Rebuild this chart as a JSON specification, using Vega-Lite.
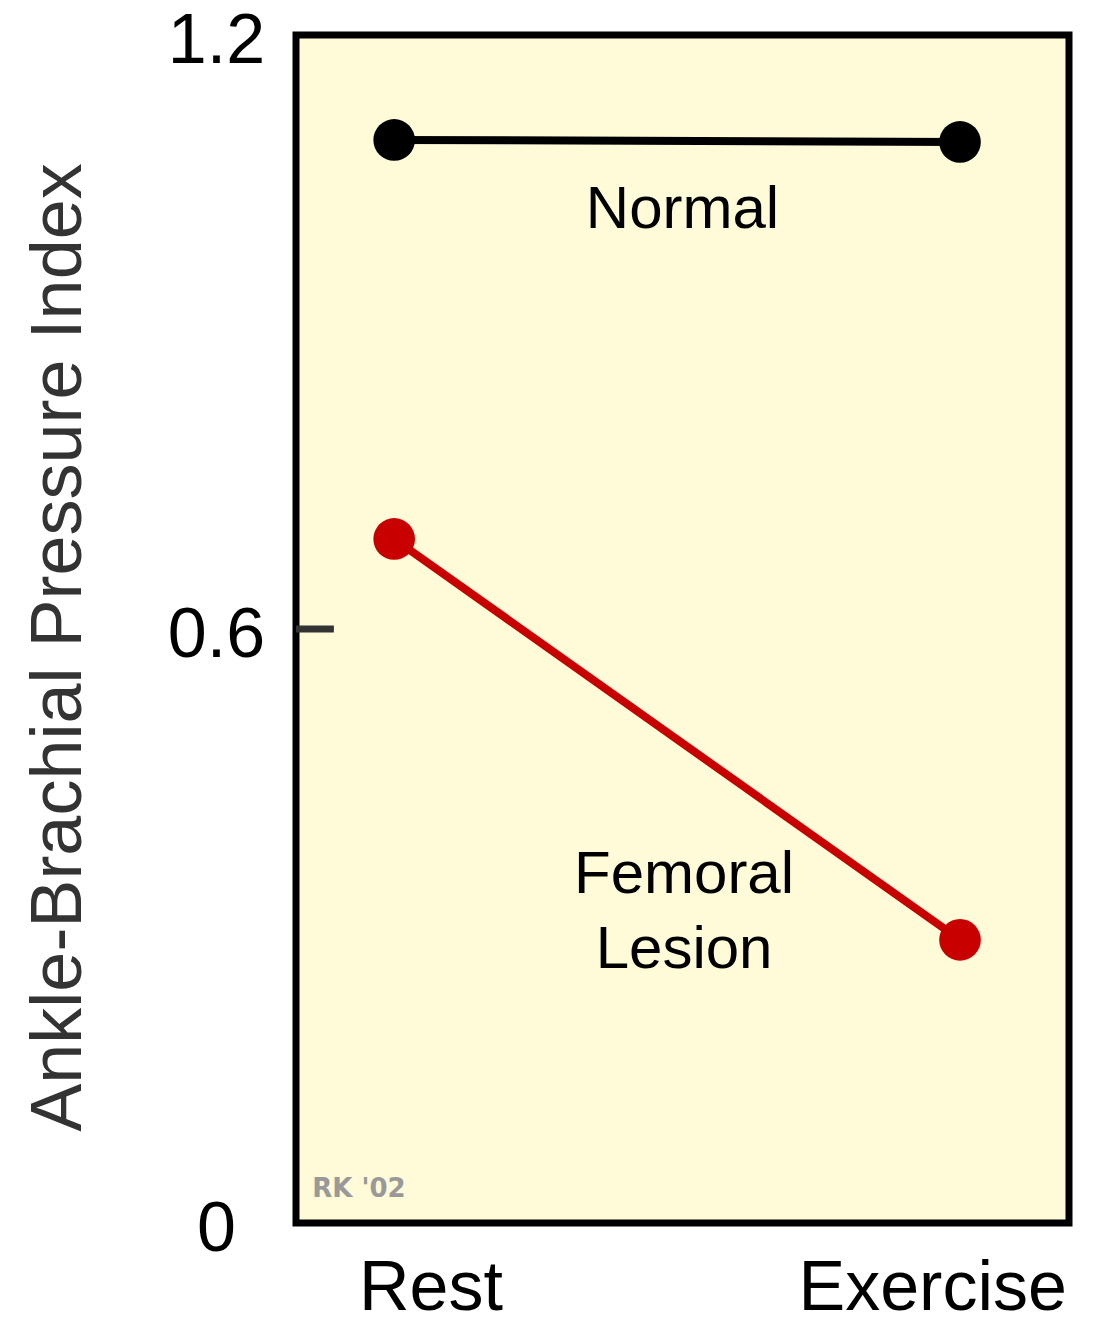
{
  "$schema": "https://vega.github.io/schema/vega-lite/v6.json",
  "autosize": {"type": "none"},
  "padding": {"left": 296, "top": 35, "right": 30, "bottom": 115},
  "width": 773,
  "height": 1188,
  "background": "white",
  "config": {
    "view": {"fill": "#fffad7", "stroke": "black", "strokeWidth": 7},
    "font": "Liberation Sans"
  },
  "datasets": {
    "series": [
      {"series": "Normal", "condition": "Rest", "pos": 0.127, "abpi": 1.094},
      {"series": "Normal", "condition": "Exercise", "pos": 0.859, "abpi": 1.092},
      {"series": "Femoral Lesion", "condition": "Rest", "pos": 0.127, "abpi": 0.691},
      {"series": "Femoral Lesion", "condition": "Exercise", "pos": 0.859, "abpi": 0.286}
    ],
    "labels": [
      {"text": "Normal", "pos": 0.5, "abpi": 1.005},
      {"text": "Femoral", "pos": 0.502, "abpi": 0.333},
      {"text": "Lesion", "pos": 0.502, "abpi": 0.258}
    ],
    "tick": [{"pos": 0, "pos2": 0.049, "abpi": 0.6}],
    "credit": [{"text": "RK '02", "pos": 0.021, "abpi": 0.026}]
  },
  "layer": [
    {
      "data": {"name": "tick"},
      "mark": {"type": "rule", "color": "#333333", "strokeWidth": 7},
      "encoding": {
        "x": {"field": "pos", "type": "quantitative"},
        "x2": {"field": "pos2"},
        "y": {"field": "abpi", "type": "quantitative"}
      }
    },
    {
      "data": {"name": "series"},
      "mark": {"type": "line", "strokeWidth": 8},
      "encoding": {
        "x": {
          "field": "pos", "type": "quantitative",
          "scale": {"domain": [0, 1], "nice": false, "zero": false},
          "axis": {
            "values": [0.174, 0.823],
            "labelExpr": "datum.value < 0.5 ? 'Rest' : 'Exercise'",
            "title": null, "grid": false, "domain": false, "ticks": false,
            "labelFontSize": 70, "labelColor": "black", "labelFont": "Liberation Sans",
            "labelAlign": "center", "labelBaseline": "alphabetic", "labelPadding": 86,
            "labelFlush": false, "labelOverlap": false, "labelBound": false, "labelLimit": 0
          }
        },
        "y": {
          "field": "abpi", "type": "quantitative",
          "scale": {"domain": [0, 1.2], "nice": false, "zero": false},
          "axis": {
            "values": [0, 0.6, 1.2],
            "format": "~g",
            "title": "Ankle-Brachial Pressure Index",
            "titleFontSize": 72, "titleColor": "#333333", "titleFont": "Liberation Sans",
            "titleFontWeight": "normal", "titleAngle": -90, "titleAlign": "center",
            "titleBaseline": "alphabetic", "titleX": -216, "titleY": 612,
            "grid": false, "domain": false, "ticks": false,
            "labelFontSize": 70, "labelColor": "black", "labelFont": "Liberation Sans",
            "labelAlign": "center", "labelBaseline": "alphabetic", "labelPadding": 80,
            "labelOffset": 27,
            "labelFlush": false, "labelOverlap": false, "labelBound": false, "labelLimit": 0
          }
        },
        "color": {
          "field": "series", "type": "nominal",
          "scale": {"domain": ["Normal", "Femoral Lesion"], "range": ["black", "#c80000"]},
          "legend": null
        },
        "order": {"field": "pos", "type": "quantitative"}
      }
    },
    {
      "data": {"name": "series"},
      "mark": {"type": "circle", "size": 1735, "opacity": 1},
      "encoding": {
        "x": {"field": "pos", "type": "quantitative"},
        "y": {"field": "abpi", "type": "quantitative"},
        "color": {"field": "series", "type": "nominal", "legend": null}
      }
    },
    {
      "data": {"name": "labels"},
      "mark": {"type": "text", "fontSize": 60, "font": "Liberation Sans", "color": "black", "align": "center", "baseline": "alphabetic"},
      "encoding": {
        "x": {"field": "pos", "type": "quantitative"},
        "y": {"field": "abpi", "type": "quantitative"},
        "text": {"field": "text"}
      }
    },
    {
      "data": {"name": "credit"},
      "mark": {"type": "text", "fontSize": 26, "font": "DejaVu Sans", "fontWeight": "bold", "color": "#999999", "align": "left", "baseline": "alphabetic"},
      "encoding": {
        "x": {"field": "pos", "type": "quantitative"},
        "y": {"field": "abpi", "type": "quantitative"},
        "text": {"field": "text"}
      }
    }
  ]
}
